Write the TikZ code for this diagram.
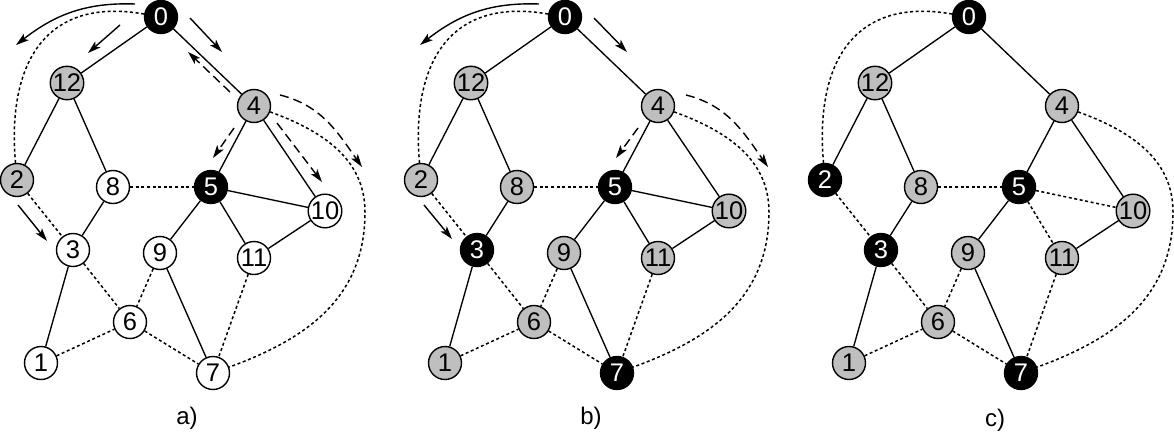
\documentclass[tikz,border=0pt]{standalone}
\usepackage{fontspec}
\setmainfont{Liberation Sans}
\usetikzlibrary{arrows.meta}
\definecolor{nodegray}{gray}{0.75}
\begin{document}
\begin{tikzpicture}[x=1pt,y=-1pt,
  nd/.style={circle,draw=black,line width=1.4pt,minimum size=33pt,inner sep=0pt,font=\fontsize{25.5}{25.5}\selectfont},
  soledge/.style={line width=1.35pt},
  dotedge/.style={line width=1.5pt,dash pattern=on 3pt off 2.6pt},
  arr/.style={line width=1.4pt,-{Stealth[length=13pt,width=8pt,inset=3pt]}},
  darr/.style={arr,dash pattern=on 9pt off 5pt},
  lab/.style={font=\fontsize{24}{24}\selectfont}]
\useasboundingbox (0,0) rectangle (1174,434);

% ---------- panel a ----------
\begin{scope}
\foreach \n/\x/\y/\f/\t in {0/161/17/black/white, 12/67/83/nodegray/black, 4/254/106/nodegray/black,
  2/17/180/nodegray/black, 8/113/187/white/black, 5/211/187/black/white, 10/325/211/white/black,
  3/73/250/white/black, 9/160/253/white/black, 11/254/258/white/black, 6/130/322/white/black,
  1/41/363/white/black, 7/213/373/white/black}
  \node[nd,fill=\f,text=\t] (a\n) at (\x,\y) {\n};
\foreach \u/\v in {0/12,0/4,12/2,12/8,4/5,4/10,5/9,10/11,8/3,3/1,9/7,5/10,5/11}
  \draw[soledge] (a\u) -- (a\v);
\foreach \u/\v in {2/3,8/5,3/6,9/6,1/6,6/7,11/7}
  \draw[dotedge] (a\u) -- (a\v);
\draw[dotedge] (a0) to[out=170,in=95,looseness=1.3] (a2);
\coordinate (aR) at (365,212);
\draw[dotedge] (a4) to[out=-20,in=90] (aR) to[out=-90,in=20,looseness=1.05] (a7);
\draw[arr] (135,4) to[out=178,in=38] (16,45);
\draw[arr] (120,25) -- (88,53);
\draw[arr] (190,18) -- (222,52);
\draw[darr] (230,92) -- (188,52);
\draw[darr] (234,128) -- (213,158);
\draw[darr] (277,123) -- (322,182);
\draw[darr] (280,95) to[out=-14,in=125] (362,167);
\draw[arr] (18,205) -- (47,241);
\node[lab] (la) at (187,418) {a)};
\end{scope}

% ---------- panel b ----------
\begin{scope}[xshift=404pt]
\foreach \n/\x/\y/\f/\t in {0/161/17/black/white, 12/67/83/nodegray/black, 4/254/106/nodegray/black,
  2/17/180/nodegray/black, 8/113/187/nodegray/black, 5/211/187/black/white, 10/325/211/nodegray/black,
  3/73/250/black/white, 9/160/253/nodegray/black, 11/254/258/nodegray/black, 6/130/322/nodegray/black,
  1/41/363/nodegray/black, 7/213/373/black/white}
  \node[nd,fill=\f,text=\t] (b\n) at (\x,\y) {\n};
\foreach \u/\v in {0/12,0/4,12/2,12/8,4/5,4/10,5/9,10/11,8/3,3/1,9/7,5/10,5/11}
  \draw[soledge] (b\u) -- (b\v);
\foreach \u/\v in {2/3,8/5,3/6,9/6,1/6,6/7,11/7}
  \draw[dotedge] (b\u) -- (b\v);
\draw[dotedge] (b0) to[out=170,in=95,looseness=1.3] (b2);
\coordinate (bR) at (365,212);
\draw[dotedge] (b4) to[out=-20,in=90] (bR) to[out=-90,in=20,looseness=1.05] (b7);
\draw[arr] (135,4) to[out=178,in=38] (16,45);
\draw[arr] (190,18) -- (223,52);
\draw[darr] (234,128) -- (212,158);
\draw[darr] (282,95) to[out=-14,in=125] (364,167);
\draw[arr] (20,205) -- (48,239);
\node[lab] (lb) at (187,418) {b)};
\end{scope}

% ---------- panel c ----------
\begin{scope}[xshift=808pt]
\foreach \n/\x/\y/\f/\t in {0/161/17/black/white, 12/67/83/nodegray/black, 4/254/106/nodegray/black,
  2/17/180/black/white, 8/113/187/nodegray/black, 5/211/187/black/white, 10/325/211/nodegray/black,
  3/73/250/black/white, 9/160/253/nodegray/black, 11/254/258/nodegray/black, 6/130/322/nodegray/black,
  1/41/363/nodegray/black, 7/213/373/black/white}
  \node[nd,fill=\f,text=\t] (c\n) at (\x,\y) {\n};
\foreach \u/\v in {0/12,0/4,12/2,12/8,4/5,4/10,5/9,10/11,8/3,3/1,9/7}
  \draw[soledge] (c\u) -- (c\v);
\foreach \u/\v in {2/3,8/5,3/6,9/6,1/6,6/7,11/7,5/10,5/11}
  \draw[dotedge] (c\u) -- (c\v);
\draw[dotedge] (c0) to[out=170,in=95,looseness=1.3] (c2);
\coordinate (cR) at (365,212);
\draw[dotedge] (c4) to[out=-20,in=90] (cR) to[out=-90,in=20,looseness=1.05] (c7);
\node[lab] (lc) at (187,420) {c)};
\end{scope}
\end{tikzpicture}
\end{document}
